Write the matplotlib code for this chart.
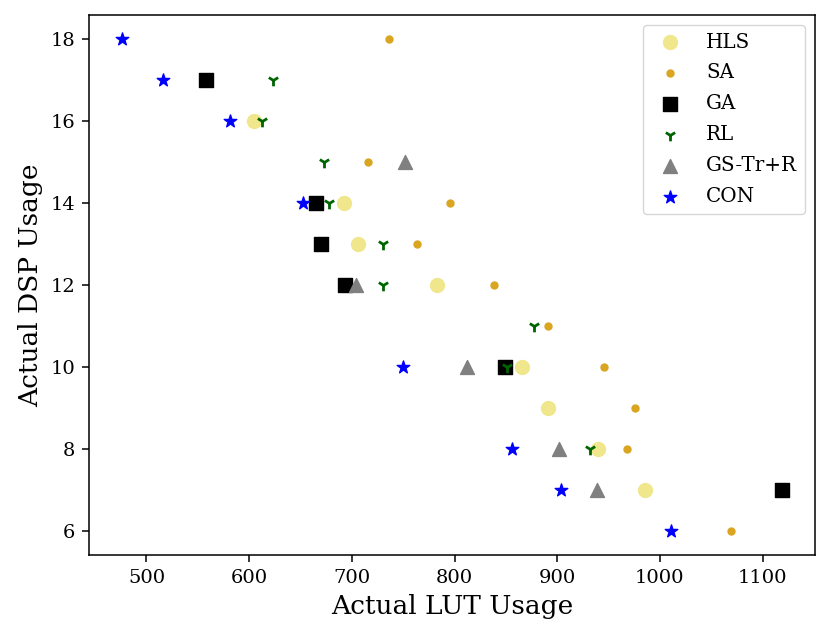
import matplotlib
matplotlib.use("Agg")
import matplotlib.pyplot as plt

plt.rcParams["font.family"] = "DejaVu Serif"

# HLS
hls_lut = [605, 692, 706, 783, 866, 891, 940, 986]
hls_dsp = [16, 14, 13, 12, 10, 9, 8, 7]

# SA
sa_lut = [736, 716, 796, 763, 838, 891, 946, 976, 968, 1069]
sa_dsp = [18, 15, 14, 13, 12, 11, 10, 9, 8, 6]

# GA
ga_lut = [558, 665, 670, 693, 849, 1119]
ga_dsp = [17, 14, 13, 12, 10, 7]

# RL
rl_lut = [623, 613, 673, 678, 730, 730, 877, 851, 932]
rl_dsp = [17, 16, 15, 14, 13, 12, 11, 10, 8]

# GS-Tr+R
gs_lut = [752, 704, 812, 902, 939]
gs_dsp = [15, 12, 10, 8, 7]

# CON
con_lut = [476, 516, 581, 652, 750, 856, 904, 1011]
con_dsp = [18, 17, 16, 14, 10, 8, 7, 6]

fig, ax = plt.subplots(figsize=(8.3, 6.39), dpi=100)
fig.subplots_adjust(left=0.107, right=0.982, top=0.977, bottom=0.131)

ax.scatter(hls_lut, hls_dsp, s=100, c="khaki", marker="o", label="HLS")
ax.scatter(sa_lut, sa_dsp, s=25, c="goldenrod", marker="o", label="SA")
ax.scatter(ga_lut, ga_dsp, s=90, c="black", marker="s", label="GA")
ax.scatter(rl_lut, rl_dsp, s=70, c="darkgreen", marker="1", linewidths=2, label="RL")
ax.scatter(gs_lut, gs_dsp, s=100, c="gray", marker="^", label="GS-Tr+R")
ax.scatter(con_lut, con_dsp, s=90, c="blue", marker="*", label="CON")

ax.set_xlabel("Actual LUT Usage", fontsize=19, labelpad=5)
ax.set_ylabel("Actual DSP Usage", fontsize=19, labelpad=5)
ax.tick_params(labelsize=14, length=5, width=1.1, pad=5)
for sp in ax.spines.values():
    sp.set_linewidth(1.1)
ax.legend(loc="upper right", fontsize=14.3, labelspacing=0.6)

fig.savefig("out.png", dpi=100)
